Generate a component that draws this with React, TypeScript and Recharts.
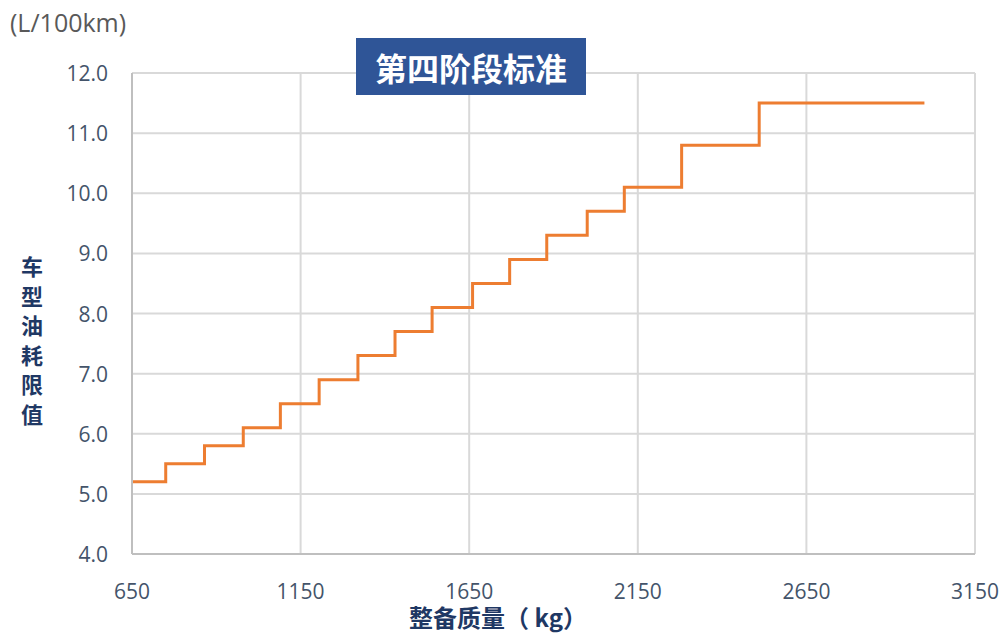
import React from "react";
import { LineChart, Line, XAxis, YAxis, CartesianGrid, Customized } from "recharts";

const massBreaks = [650, 750, 865, 980, 1090, 1205, 1320, 1430, 1540, 1660, 1770, 1880, 2000, 2110, 2280, 2510, 3000];
const limits = [5.2, 5.5, 5.8, 6.1, 6.5, 6.9, 7.3, 7.7, 8.1, 8.5, 8.9, 9.3, 9.7, 10.1, 10.8, 11.5, 11.5];
const xTicks = [650, 1150, 1650, 2150, 2650, 3150];
const yTicks = [4, 5, 6, 7, 8, 9, 10, 11, 12];
const yLabelChars = ["车", "型", "油", "耗", "限", "值"];
const title = "第四阶段标准";
const unitLabel = "(L/100km)";
const xLabel = "整备质量（ kg）";

const data = massBreaks.map((m, i) => ({ mass: m, limit: limits[i] }));

const tickColor = "#44546A";
const labelColor = "#1F3864";
const numFont = "'Open Sans', 'Noto Sans', sans-serif";
const cjkFont = "'Noto Sans CJK SC', sans-serif";

const XTick = (props: any) => {
  const { x, y, payload } = props;
  return (
    <text x={x} y={y + 29} textAnchor="middle" dominantBaseline="central" fill={tickColor} fontSize={21} fontFamily={numFont}>
      {payload.value}
    </text>
  );
};

const YTick = (props: any) => {
  const { x, y, payload } = props;
  return (
    <text x={x - 16} y={y} textAnchor="end" dominantBaseline="central" fill={tickColor} fontSize={21} fontFamily={numFont}>
      {Number(payload.value).toFixed(1)}
    </text>
  );
};

const Extras = () => (
  <g>
    <text x={10} y={22} dominantBaseline="central" fill="#595959" fontSize={25} fontFamily={numFont}>
      {unitLabel}
    </text>
    {yLabelChars.map((c, i) => (
      <text key={c} x={32} y={265 + i * 29.5} textAnchor="middle" dominantBaseline="central" fill={labelColor} fontSize={22} fontWeight="bold" fontFamily={cjkFont}>
        {c}
      </text>
    ))}
    <text x={498} y={616} textAnchor="middle" dominantBaseline="central" fill={labelColor} fontSize={24} fontWeight="bold" fontFamily={cjkFont}>
      {xLabel}
    </text>
    <rect x={356} y={38} width={230} height={57} fill="#2F5597" />
    <text x={471} y={67} textAnchor="middle" dominantBaseline="central" fill="#FFFFFF" fontSize={32} fontWeight="bold" fontFamily={cjkFont}>
      {title}
    </text>
  </g>
);

export default function App() {
  return (
    <div style={{ position: "absolute", left: 0, top: 0, width: 1004, height: 633, background: "#fff" }}>
      <LineChart width={1004} height={633} data={data} margin={{ top: 73, right: 29, bottom: 0, left: 0 }}>
        <CartesianGrid stroke="#D9D9D9" strokeWidth={2} />
        <XAxis
          dataKey="mass"
          type="number"
          domain={[650, 3150]}
          ticks={xTicks}
          height={79}
          stroke="#BFBFBF"
          strokeWidth={2}
          tickLine={false}
          tick={<XTick />}
          interval={0}
        />
        <YAxis
          type="number"
          domain={[4, 12]}
          ticks={yTicks}
          width={132}
          stroke="#BFBFBF"
          strokeWidth={2}
          tickLine={false}
          tick={<YTick />}
          interval={0}
        />
        <Line type="stepAfter" dataKey="limit" stroke="#ED7D31" strokeWidth={3} dot={false} isAnimationActive={false} />
        <Customized component={Extras} />
      </LineChart>
    </div>
  );
}
